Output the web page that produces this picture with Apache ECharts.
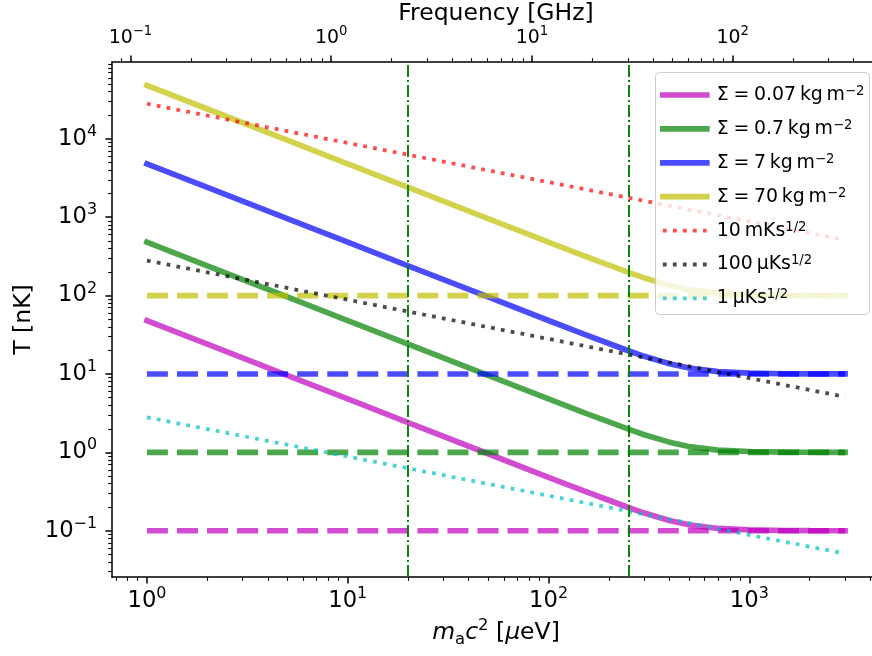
<!DOCTYPE html>
<html><head><meta charset="utf-8">
<script src="https://cdn.jsdelivr.net/npm/echarts@6/dist/echarts.min.js"></script>
<style>html,body{margin:0;padding:0;background:#fff}#c{width:872px;height:656px}</style>
</head><body><div id="c"></div>
<script>
// ---- data ----
const massGrid = [1, 2, 5, 10, 20, 50, 100, 150, 200, 250, 300, 400, 500, 700, 1000, 1500, 2000, 3000];
const sigma007 = [48, 24, 9.6, 4.8, 2.4, 0.96, 0.481, 0.322, 0.245, 0.198, 0.168, 0.135, 0.119, 0.107, 0.1025, 0.1007, 0.1003, 0.1001];
const sigma07  = [480, 240, 96, 48, 24, 9.6, 4.81, 3.22, 2.45, 1.98, 1.68, 1.35, 1.19, 1.07, 1.025, 1.007, 1.003, 1.001];
const sigma7   = [4800, 2400, 960, 480, 240, 96, 48.1, 32.2, 24.5, 19.8, 16.8, 13.5, 11.9, 10.7, 10.25, 10.07, 10.03, 10.01];
const sigma70  = [48000, 24000, 9600, 4800, 2400, 960, 481, 322, 245, 198, 168, 135, 119, 107, 102.5, 100.7, 100.3, 100.1];

const massFloor = [1, 3000];
const floor007 = [0.1, 0.1];
const floor07  = [1, 1];
const floor7   = [10, 10];
const floor70  = [100, 100];

const massNoise = [1, 10, 100, 1000, 3000];
const noise10mK  = [28000, 8850, 2800, 885, 511];
const noise100uK = [280, 88.5, 28, 8.85, 5.11];
const noise1uK   = [2.8, 0.885, 0.28, 0.0885, 0.0511];

const markMass = [20, 250];

const xTickExp = [0, 1, 2, 3];
const yTickExp = [-1, 0, 1, 2, 3, 4];
const freqTickExp = [-1, 0, 1, 2];
const ghzPerMicroEV = 0.1209; // top axis conversion

// ---- layout / style ----
const F = 'DejaVu Sans';
const X_MIN = -0.174, X_MAX = 3.651, Y_MIN = -1.590, Y_MAX = 4.980;
const FOFF = Math.log10(ghzPerMicroEV);
const COL = {
  m: 'rgba(191,0,191,0.7)', g: 'rgba(0,128,0,0.7)', b: 'rgba(0,0,255,0.7)', y: 'rgba(191,191,0,0.7)',
  r: 'rgba(255,0,0,0.7)', k: 'rgba(0,0,0,0.7)', c: 'rgba(0,191,191,0.7)'
};
const LW = 5.67, LWD = 3.78;
const DASH = [3.7 * LW, 1.6 * LW];
const DOT = [1 * LWD, 1.65 * LWD];

const toPts = (xs, ys) => xs.map((x, i) => [Math.log10(x), Math.log10(ys[i])]);

function minorTicks(lo, hi) {
  const out = [];
  for (let e = Math.floor(lo) - 1; e <= Math.ceil(hi); e++)
    for (let k = 2; k <= 9; k++) {
      const v = e + Math.log10(k);
      if (v >= lo && v <= hi) out.push(v);
    }
  return out;
}
function pow10(v) {
  const e = Math.round(v);
  return '{b|10}{s|' + (e < 0 ? '\u2212' + (-e) : String(e)) + '}';
}
const labRichBig = {
  b: { fontFamily: F, fontSize: 22.7, lineHeight: 30, color: '#000' },
  s: { fontFamily: F, fontSize: 15.9, lineHeight: 17, verticalAlign: 'top', color: '#000' }
};
const labRichSmall = {
  b: { fontFamily: F, fontSize: 18.9, lineHeight: 26, color: '#000' },
  s: { fontFamily: F, fontSize: 13.2, lineHeight: 14, verticalAlign: 'top', color: '#000' }
};
const NF = 23.5;
const nameRich = {
  n: { fontFamily: F, fontSize: NF, lineHeight: 30, color: '#000' },
  i: { fontFamily: F, fontSize: NF, lineHeight: 30, fontStyle: 'italic', color: '#000' },
  sup: { fontFamily: F, fontSize: NF * 0.7, lineHeight: 18, verticalAlign: 'top', color: '#000' },
  sub: { fontFamily: F, fontSize: NF * 0.7, lineHeight: 21, verticalAlign: 'bottom', color: '#000' }
};
const axisLine = { show: true, onZero: false, lineStyle: { color: '#000', width: 1.5 } };

function majorAxis(pos, min, max, exps, rich, margin, extra) {
  return Object.assign({
    type: 'value', position: pos, min: min, max: max, gridIndex: 0,
    axisLine: axisLine, splitLine: { show: false },
    axisTick: { show: true, inside: false, length: 6.6, customValues: exps, lineStyle: { color: '#000', width: 1.5 } },
    axisLabel: { show: true, customValues: exps, margin: margin, formatter: pow10, rich: rich }
  }, extra || {});
}
function minorAxis(pos, min, max) {
  return {
    type: 'value', position: pos, min: min, max: max, gridIndex: 0,
    axisLine: { show: false, onZero: false }, splitLine: { show: false },
    axisTick: { show: true, inside: false, length: 3.8, customValues: minorTicks(min, max), lineStyle: { color: '#000', width: 1.1 } },
    axisLabel: { show: false }
  };
}

const names = ['S007', 'S07', 'S7', 'S70', 'N10m', 'N100u', 'N1u'];
const SP = '\u2005', TH = '\u2009';
const legendText = {
  S007: '{t|\u03A3' + SP + '=' + SP + '0.07' + TH + 'kg' + TH + 'm}{s|\u22122}',
  S07: '{t|\u03A3' + SP + '=' + SP + '0.7' + TH + 'kg' + TH + 'm}{s|\u22122}',
  S7: '{t|\u03A3' + SP + '=' + SP + '7' + TH + 'kg' + TH + 'm}{s|\u22122}',
  S70: '{t|\u03A3' + SP + '=' + SP + '70' + TH + 'kg' + TH + 'm}{s|\u22122}',
  N10m: '{t|10' + TH + 'mKs}{s|1/2}',
  N100u: '{t|100' + TH + '\u03BCKs}{s|1/2}',
  N1u: '{t|1' + TH + '\u03BCKs}{s|1/2}'
};

function line(name, xs, ys, color, width, type, cap) {
  return {
    type: 'line', name: name, xAxisIndex: 0, yAxisIndex: 0,
    data: toPts(xs, ys), showSymbol: false, symbol: 'none', smooth: false,
    lineStyle: { color: color, width: width, type: type, cap: cap },
    itemStyle: { color: color },
    silent: true, animation: false, z: 2
  };
}

const series = [
  line('S007', massGrid, sigma007, COL.m, LW, 'solid', 'square'),
  line('S07', massGrid, sigma07, COL.g, LW, 'solid', 'square'),
  line('S7', massGrid, sigma7, COL.b, LW, 'solid', 'square'),
  line('S70', massGrid, sigma70, COL.y, LW, 'solid', 'square'),
  line('F007', massFloor, floor007, COL.m, LW, DASH, 'butt'),
  line('F07', massFloor, floor07, COL.g, LW, DASH, 'butt'),
  line('F7', massFloor, floor7, COL.b, LW, DASH, 'butt'),
  line('F70', massFloor, floor70, COL.y, LW, DASH, 'butt'),
  line('N10m', massNoise, noise10mK, COL.r, LWD, DOT, 'butt'),
  line('N100u', massNoise, noise100uK, COL.k, LWD, DOT, 'butt'),
  line('N1u', massNoise, noise1uK, COL.c, LWD, DOT, 'butt'),
  {
    type: 'line', name: 'marks', xAxisIndex: 0, yAxisIndex: 0, data: [], silent: true, animation: false, z: 2,
    markLine: {
      silent: true, animation: false, symbol: ['none', 'none'], label: { show: false },
      lineStyle: { color: '#008000', width: 1.9, type: [12.1, 3.0, 1.9, 3.0], cap: 'butt' },
      emphasis: { disabled: true },
      data: markMass.map(m => ({ xAxis: Math.log10(m) }))
    }
  }
];

const legendData = names.map((n, i) => ({
  name: n,
  lineStyle: { width: i < 4 ? LW : LWD },
  itemStyle: { opacity: 0, borderWidth: 0 }
}));

const option = {
  backgroundColor: '#fff',
  animation: false,
  grid: { left: 112, right: -8, top: 62, bottom: 79, containLabel: false, outerBoundsMode: 'none' },
  xAxis: [
    majorAxis('bottom', X_MIN, X_MAX, xTickExp, labRichBig, 9, {
      name: '{i|m}{sub|a}{i|c}{sup|2}{n| [}{i|\u03BC}{n|eV]}', nameLocation: 'middle', nameGap: 41,
      nameMoveOverlap: false,
      nameTextStyle: { rich: nameRich }
    }),
    minorAxis('bottom', X_MIN, X_MAX),
    majorAxis('top', X_MIN + FOFF, X_MAX + FOFF, freqTickExp, labRichSmall, 11, {
      name: '{n|Frequency [GHz]}', nameLocation: 'middle', nameGap: 33,
      nameMoveOverlap: false,
      nameTextStyle: { rich: nameRich }
    }),
    minorAxis('top', X_MIN + FOFF, X_MAX + FOFF)
  ],
  yAxis: [
    majorAxis('left', Y_MIN, Y_MAX, yTickExp, labRichBig, 15, {
      name: '{n|T [nK]}', nameLocation: 'middle', nameGap: 73, nameRotate: 90,
      nameMoveOverlap: false,
      nameTextStyle: { rich: nameRich }
    }),
    minorAxis('left', Y_MIN, Y_MAX)
  ],
  legend: {
    show: true, orient: 'vertical', left: 660, top: 85, padding: 0,
    itemWidth: 44, itemHeight: 14, itemGap: 14.4,
    selectedMode: false, z: 5,
    data: legendData,
    formatter: n => legendText[n],
    textStyle: {
      padding: [0, 0, 0, 5],
      rich: {
        t: { fontFamily: F, fontSize: 18.9, lineHeight: 20, color: '#000' },
        s: { fontFamily: F, fontSize: 13.2, lineHeight: 14, verticalAlign: 'top', color: '#000' }
      }
    }
  },
  graphic: [{
    type: 'rect', z: 3, silent: true,
    shape: { x: 655.5, y: 72.5, width: 214, height: 242, r: 4 },
    style: { fill: 'rgba(255,255,255,0.8)', stroke: '#cccccc', lineWidth: 1 }
  }],
  series: series
};

const chart = echarts.init(document.getElementById('c'), null, { renderer: 'canvas' });
chart.setOption(option);
</script>
</body></html>
